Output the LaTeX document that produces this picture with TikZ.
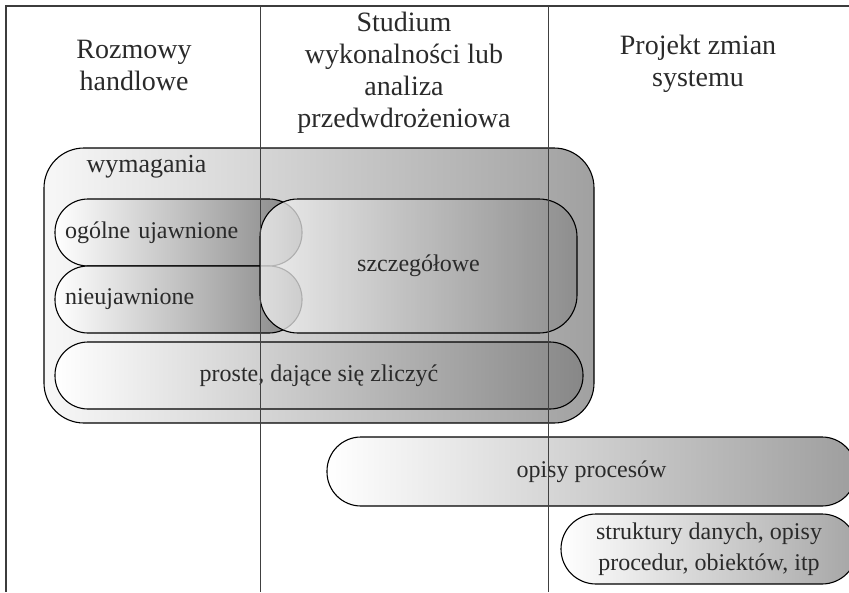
\documentclass[tikz,border=0pt]{standalone}
\usepackage{fontspec}
\setmainfont{Liberation Serif}
\usetikzlibrary{positioning}
\definecolor{frameGray}{HTML}{3C3C3C}
\definecolor{inkGray}{HTML}{2A2A2A}

\begin{document}
\begin{tikzpicture}[x=1pt, y=-1pt,
    head/.style={align=center, font=\fontsize{28}{32}\selectfont, text=inkGray, inner sep=0pt},
    pill/.style={rectangle, rounded corners=#1, draw=black, line width=1.1pt,
                 left color=white, right color=black!45, inner sep=0pt,
                 font=\fontsize{24}{31}\selectfont, text=inkGray, align=center},
    pill/.default=33pt,
    side/.style={pill, text width=227pt, inner xsep=10pt, minimum height=67pt, align=left,
                 right color=black!48},
    divider/.style={draw=black!75, line width=0.8pt},
  ]
  \useasboundingbox (0,0) rectangle (849,592);
  \clip (0,0) rectangle (849,592);

  % wymagania
  \node[pill=40pt, minimum width=550pt, minimum height=275pt,
        left color=black!3, right color=black!37] (req) at (319,285.5) {};
  \node[font=\fontsize{26}{30}\selectfont, text=inkGray, inner sep=0pt] (reqname) at (146.5,167) {wymagania};
  \node[side] (general) at (178.5,232.5) {ogólne ujawnione};
  \node[side] (hidden) at (178.5,299.5) {nieujawnione};
  \node[pill=38pt, minimum width=317pt, minimum height=134pt, fill opacity=0.75, text opacity=1,
        left color=black!4, right color=black!47] (detail) at (418.5,266) {szczegółowe};
  \node[pill, minimum width=528pt, minimum height=67pt,
        right color=black!47] (simple) at (319,375.5) {proste, dające się zliczyć};

  % dalsze etapy
  \node[pill=34pt, minimum width=529pt, minimum height=69pt,
        right color=black!38] (process) at (591.5,471.5) {opisy procesów};
  \node[pill=35pt, minimum width=296pt, minimum height=70pt,
        right color=black!35] (data) at (709,549) {struktury danych, opisy\\procedur, obiektów, itp};

  % ramka i kolumny
  \draw[frameGray, line width=2.2pt] (6,592) -- (6,6) -- (849,6);
  \draw[divider] (260,6) -- (260,592);
  \draw[divider] (548,6) -- (548,592);

  \node[head] (talks) at (134,65) {Rozmowy\\handlowe};
  \node[head] (study) at (404,73) {Studium\\wykonalności lub\\analiza\\przedwdrożeniowa};
  \node[head] (design) at (698,64) {Projekt zmian\\systemu};
\end{tikzpicture}
\end{document}
